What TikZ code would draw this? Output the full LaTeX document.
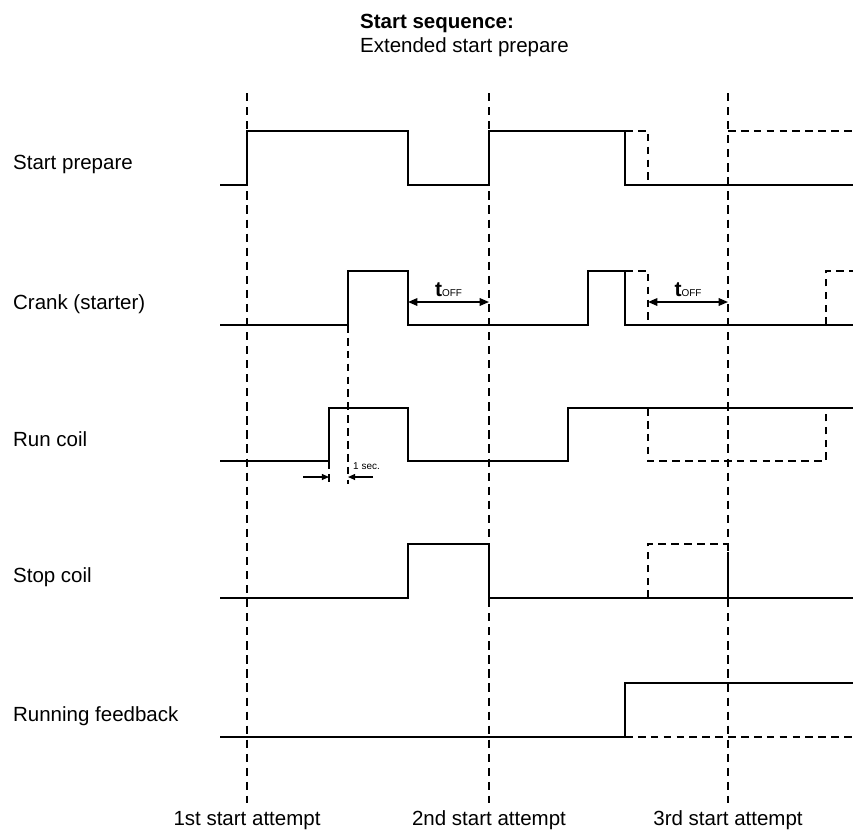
\documentclass[tikz,border=0pt]{standalone}
\usepackage{fontspec}
\setmainfont{Liberation Sans}
\usetikzlibrary{arrows.meta,calc}

\begin{document}
\begin{tikzpicture}[x=0.03cm,y=-0.03cm,
		sig/.style={line width=1.5pt},
		alt/.style={line width=1.5pt,dash pattern=on 6.5pt off 4.5pt},
		attemptline/.style={line width=1.5pt,dash pattern=on 7pt off 5pt},
		span/.style={{Triangle[length=8pt,width=6.5pt]}-{Triangle[length=8pt,width=6.5pt]},line width=1.3pt},
		tip/.style={-{Triangle[length=6pt,width=5pt]},line width=1.1pt},
		lbl/.style={anchor=base west,font=\fontsize{17.5}{20}\selectfont},
		attempt/.style={anchor=base,font=\fontsize{17.5}{20}\selectfont}]
	\useasboundingbox (0,0) rectangle (853,830);
	\node[anchor=base west,font=\bfseries\fontsize{17.5}{20}\selectfont] (title) at (356,28) {Start sequence:};
	\node[anchor=base west,font=\fontsize{17.5}{20}\selectfont] (subtitle) at (356,52) {Extended start prepare};
	% attempts
	\foreach \x/\n in {247/1st,489/2nd,728/3rd}{
		\draw[attemptline] (\x,93) -- (\x,803);
		\node[attempt] (att\n) at (\x,825) {\n{} start attempt};
	}
	% signal names
	\foreach \y/\n/\t in {169/sp/Start prepare,309/crank/Crank (starter),446/run/Run coil,582/stop/Stop coil,721/fb/Running feedback}
		\node[lbl] (\n) at (9,\y) {\t};
	% start prepare
	\draw[sig] (220,185) -| (247,131) -| (408,185) -| (489,131) -| (625,185) -- (853,185);
	\draw[alt] (625,131) -| (648,185);
	\draw[alt] (728,131) -- (853,131);
	% crank
	\draw[sig] (220,325) -| (348,271) -| (408,325) -| (588,271) -| (625,325) -- (853,325);
	\draw[alt] (625,271) -| (648,325);
	\draw[alt] (826,325) |- (853,271);
	\coordinate (offa1) at (408,302); \coordinate (offb1) at (489,302);
	\coordinate (offa2) at (648,302); \coordinate (offb2) at (728,302);
	\foreach \i in {1,2}{
		\draw[span] (offa\i) -- (offb\i);
		\node[anchor=base,inner sep=0pt] (toff\i) at ($(offa\i)!0.5!(offb\i)+(0,-6)$) {\fontsize{18}{20}\selectfont\textbf{t}\fontsize{8.5}{10}\selectfont OFF};
	}
	% run coil
	\draw[sig] (220,461) -| (329,408) -| (408,461) -| (568,408) -- (853,408);
	\draw[alt] (648,408) |- (826,461) -- (826,408);
	\draw[alt] (348,325) -- (348,484);
	\draw[alt] (329,461) -- (329,484);
	\coordinate (secl) at (303,477); \coordinate (secr) at (373,477);
	\draw[tip] (secl) -- (329,477);
	\draw[tip] (secr) -- (348,477);
	\node[anchor=base west,inner sep=0pt,font=\fontsize{8.5}{10}\selectfont] (sec) at (353,469) {1 sec.};
	% stop coil
	\draw[sig] (220,598) -| (408,544) -| (489,598) -- (853,598);
	\draw[alt] (648,598) |- (728,544) -- (728,598);
	% running feedback
	\draw[sig] (220,737) -| (625,683) -- (853,683);
	\draw[alt] (625,737) -- (853,737);
\end{tikzpicture}
\end{document}
